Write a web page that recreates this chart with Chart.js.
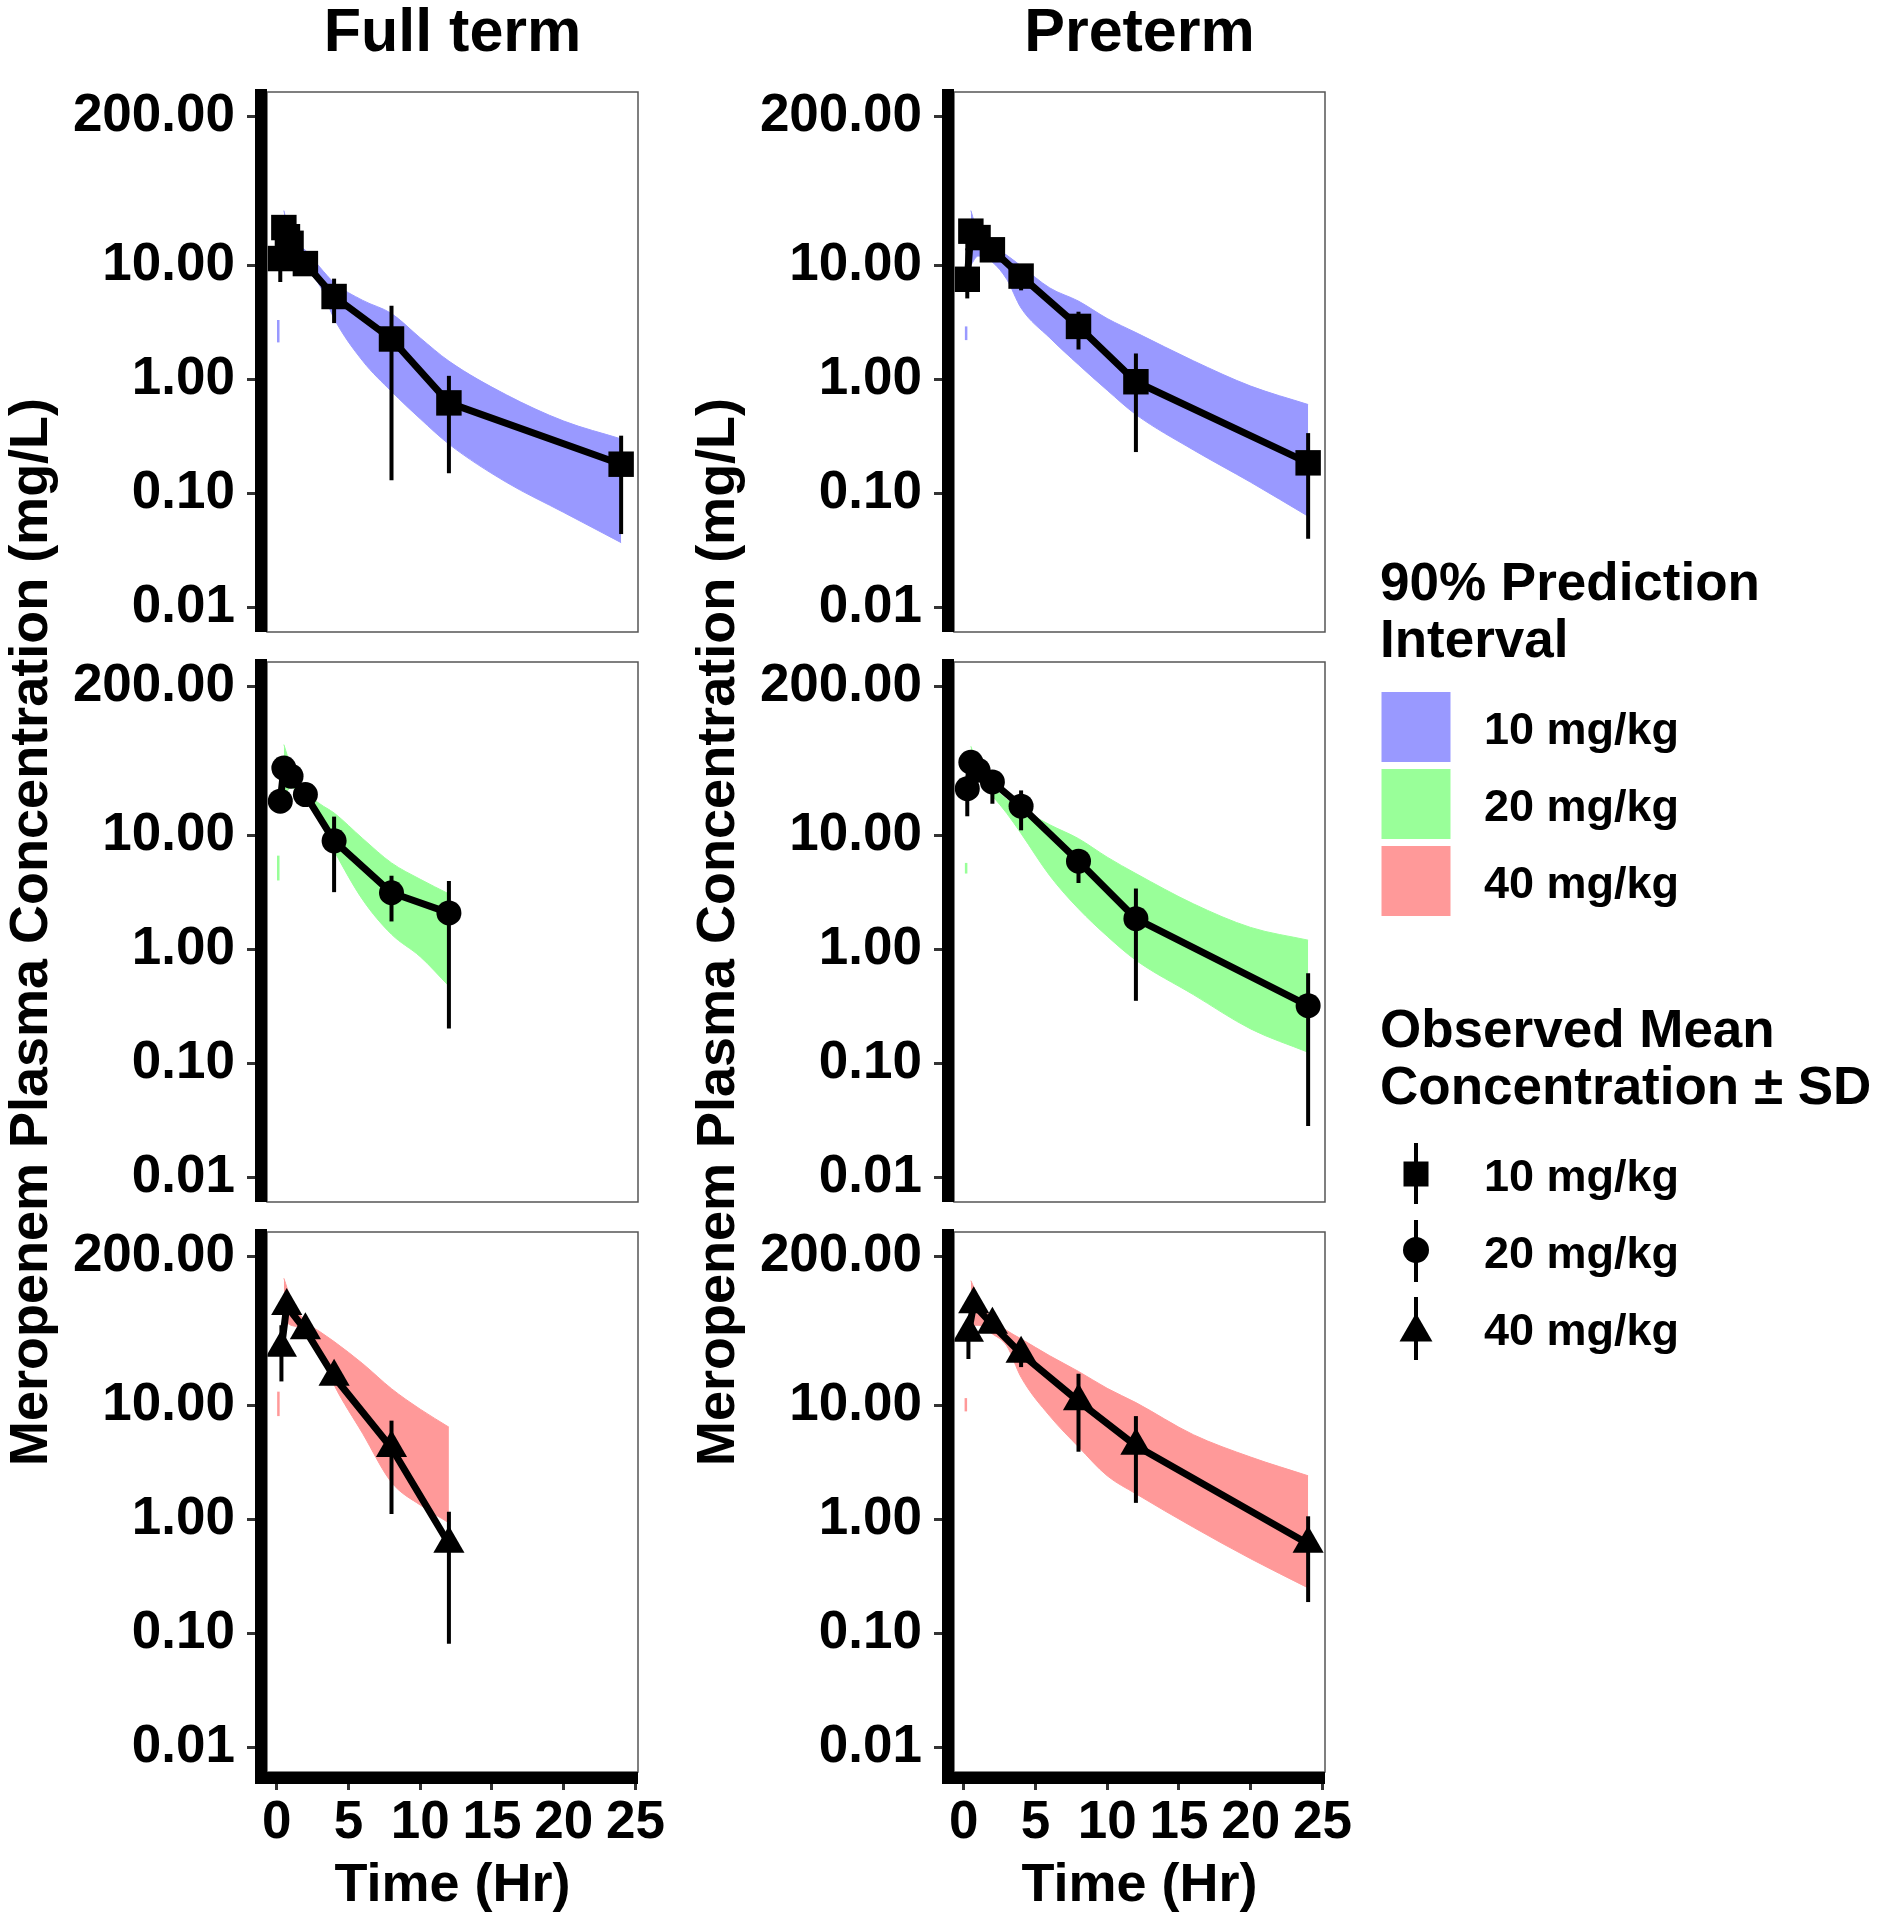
<!DOCTYPE html>
<html>
<head>
<meta charset="utf-8">
<script src="https://cdn.jsdelivr.net/npm/chart.js"></script>
<style>
  body { margin: 0; background: #fff; width: 1881px; height: 1920px; position: relative; overflow: hidden; }
  canvas { position: absolute; z-index: 1; }
  #overlay { position: absolute; left: 0; top: 0; z-index: 2; }
</style>
</head>
<body>
<svg id="overlay" width="1881" height="1920" xmlns="http://www.w3.org/2000/svg"
     font-family="'Liberation Sans', Arial, sans-serif" font-weight="bold"></svg>
<script>
// axes / labels
var xTickValues = [0, 5, 10, 15, 20, 25];
var yTickValues = [0.01, 0.1, 1, 10, 200];
var yTickLabels = ['0.01', '0.10', '1.00', '10.00', '200.00'];
var groupTitles = ['Full term', 'Preterm'];
var doseLabels = ['10 mg/kg', '20 mg/kg', '40 mg/kg'];
var xTitle = 'Time (Hr)';
var yTitle = 'Meropenem Plasma Concentration (mg/L)';
var piTitle = ['90% Prediction', 'Interval'];
var obsTitle = ['Observed Mean', 'Concentration \u00b1 SD'];

// Full term, 10 mg/kg
var ft10Time = [0.25, 0.5, 0.75, 1, 2, 4, 8, 12, 24];
var ft10Mean = [11.4, 21.3, 17.7, 15.5, 10.3, 5.3, 2.25, 0.62, 0.18];
var ft10SdLo = [7.1, 15, 14, 12.5, 8.8, 3.1, 0.13, 0.15, 0.044];
var ft10SdHi = [15, 27, 22, 19, 12, 7.6, 4.4, 1.07, 0.32];
var ft10PiTime = [0.5, 1, 2, 3, 4, 6, 8, 10, 12, 16, 20, 24];
var ft10PiLo = [10, 11, 9, 6.6, 3.4, 1.44, 0.78, 0.45, 0.27, 0.125, 0.068, 0.037];
var ft10PiHi = [30, 17, 13.5, 9.6, 7.0, 4.9, 3.76, 2.3, 1.44, 0.73, 0.43, 0.30];
var ft10PiEarly = [0.11, 2.1, 3.3];

// Preterm, 10 mg/kg
var pt10Time = [0.25, 0.5, 1, 2, 4, 8, 12, 24];
var pt10Mean = [7.5, 19.8, 17.4, 13.6, 8.0, 2.9, 0.95, 0.185];
var pt10SdLo = [5.1, 16, 14, 11, 6.0, 1.82, 0.23, 0.040];
var pt10SdHi = [14, 24, 21, 16, 10, 3.9, 1.68, 0.337];
var pt10PiTime = [0.5, 1, 2, 3, 4, 6, 8, 10, 12, 16, 20, 24];
var pt10PiLo = [10, 12, 10.6, 7.5, 4.2, 2.3, 1.34, 0.8, 0.49, 0.24, 0.125, 0.063];
var pt10PiHi = [30, 19, 14.5, 12.2, 9.8, 6.3, 4.83, 3.4, 2.56, 1.45, 0.87, 0.6];
var pt10PiEarly = [0.17, 2.2, 2.9];

// Full term, 20 mg/kg
var ft20Time = [0.25, 0.5, 1, 2, 4, 8, 12];
var ft20Mean = [19.8, 38.6, 32.8, 22.6, 8.9, 3.12, 2.08];
var ft20SdLo = [16, 32, 27, 17.7, 3.16, 1.75, 0.202];
var ft20SdHi = [25, 45, 38, 28, 14.5, 4.4, 3.95];
var ft20PiTime = [0.5, 1, 2, 3, 4, 6, 8, 10, 12];
var ft20PiLo = [22, 26, 20, 13, 7.3, 2.7, 1.35, 0.86, 0.475];
var ft20PiHi = [62, 40, 24, 18.8, 15.6, 9.3, 5.7, 4.1, 3.05];
var ft20PiEarly = [0.11, 4.0, 6.6];

// Preterm, 20 mg/kg
var pt20Time = [0.25, 0.5, 1, 2, 4, 8, 12, 24];
var pt20Mean = [25.5, 43.4, 37, 29.2, 17.9, 5.9, 1.85, 0.32];
var pt20SdLo = [14.6, 37, 31, 18.8, 11.0, 3.8, 0.353, 0.0283];
var pt20SdHi = [32, 50, 43, 34, 24.6, 7.4, 3.4, 0.617];
var pt20PiTime = [0.5, 1, 2, 3, 4, 6, 8, 10, 12, 16, 20, 24];
var pt20PiLo = [28, 30, 22, 15.5, 10.3, 4.4, 2.26, 1.3, 0.8, 0.4, 0.2, 0.125];
var pt20PiHi = [60, 40, 27, 20.5, 17, 12.3, 9.3, 6.4, 4.6, 2.5, 1.55, 1.2];
var pt20PiEarly = [0.17, 4.6, 5.7];

// Full term, 40 mg/kg
var ft40Time = [0.33, 0.7, 2, 4, 8, 12];
var ft40Mean = [31.8, 73.6, 45.3, 17.7, 4.2, 0.61];
var ft40SdLo = [16.1, 62, 38, 15, 1.11, 0.081];
var ft40SdHi = [50, 86, 53, 21, 7.3, 1.16];
var ft40PiTime = [0.5, 1, 2, 3, 4, 6, 8, 10, 12];
var ft40PiLo = [55, 50, 46, 29, 15, 5.6, 2.1, 1.33, 0.93];
var ft40PiHi = [129, 85, 54, 44, 36, 23, 13.9, 9.2, 6.4];
var ft40PiEarly = [0.12, 8.0, 13.1];

// Preterm, 40 mg/kg
var pt40Time = [0.33, 0.7, 2, 4, 8, 12, 24];
var pt40Mean = [43, 76.3, 50.5, 28.2, 10.8, 4.4, 0.61];
var pt40SdLo = [25.3, 66, 44, 21.5, 3.9, 1.39, 0.188];
var pt40SdHi = [55, 88, 58, 33.7, 18.8, 8.0, 1.06];
var pt40PiTime = [0.5, 1, 2, 3, 4, 6, 8, 10, 12, 16, 20, 24];
var pt40PiLo = [50, 50, 42, 33, 17.5, 8.0, 4.3, 2.4, 1.67, 0.85, 0.45, 0.25];
var pt40PiHi = [123, 90, 56, 45, 38, 27, 19.7, 14, 10.5, 5.5, 3.5, 2.4];
var pt40PiEarly = [0.15, 8.8, 11.5];

// styles
var piColors = ['#9999ff', '#99ff99', '#ff9999'];
var markerStyles = ['rect', 'circle', 'triangle'];
var markerRadius = [18, 12.5, 18];

// layout (px)
var colLeft = [267, 954];
var rowTop = [92, 662, 1232];
var panelW = 371, panelH = 540;
var axisW = 267, padTop = 50, padRight = 45, padBottom = 50, xAxisH = 147;

Chart.defaults.font.family = "'Liberation Sans', Arial, sans-serif";
Chart.defaults.color = '#000';

var panels = [
  {col: 0, row: 0, dose: 0, time: ft10Time, mean: ft10Mean, sdLo: ft10SdLo, sdHi: ft10SdHi, piTime: ft10PiTime, piLo: ft10PiLo, piHi: ft10PiHi, early: ft10PiEarly},
  {col: 1, row: 0, dose: 0, time: pt10Time, mean: pt10Mean, sdLo: pt10SdLo, sdHi: pt10SdHi, piTime: pt10PiTime, piLo: pt10PiLo, piHi: pt10PiHi, early: pt10PiEarly},
  {col: 0, row: 1, dose: 1, time: ft20Time, mean: ft20Mean, sdLo: ft20SdLo, sdHi: ft20SdHi, piTime: ft20PiTime, piLo: ft20PiLo, piHi: ft20PiHi, early: ft20PiEarly},
  {col: 1, row: 1, dose: 1, time: pt20Time, mean: pt20Mean, sdLo: pt20SdLo, sdHi: pt20SdHi, piTime: pt20PiTime, piLo: pt20PiLo, piHi: pt20PiHi, early: pt20PiEarly},
  {col: 0, row: 2, dose: 2, time: ft40Time, mean: ft40Mean, sdLo: ft40SdLo, sdHi: ft40SdHi, piTime: ft40PiTime, piLo: ft40PiLo, piHi: ft40PiHi, early: ft40PiEarly},
  {col: 1, row: 2, dose: 2, time: pt40Time, mean: pt40Mean, sdLo: pt40SdLo, sdHi: pt40SdHi, piTime: pt40PiTime, piLo: pt40PiLo, piHi: pt40PiHi, early: pt40PiEarly}
];

// vertical SD bars
var errorBars = {
  id: 'errorBars',
  afterDatasetsDraw: function(chart) {
    var ctx = chart.ctx, x = chart.scales.x, y = chart.scales.y;
    chart.data.datasets.forEach(function(ds) {
      if (!ds.sdLo) return;
      ctx.save();
      ctx.strokeStyle = '#000';
      ctx.lineWidth = 4;
      ds.data.forEach(function(p, i) {
        var px = x.getPixelForValue(p.x);
        ctx.beginPath();
        ctx.moveTo(px, y.getPixelForValue(ds.sdLo[i]));
        ctx.lineTo(px, y.getPixelForValue(ds.sdHi[i]));
        ctx.stroke();
      });
      ctx.restore();
    });
  }
};

// grey panel box + heavy axis lines
var panelFrame = {
  id: 'panelFrame',
  afterDraw: function(chart, args, opts) {
    var ctx = chart.ctx, a = chart.chartArea;
    ctx.save();
    ctx.strokeStyle = '#555';
    ctx.lineWidth = 1.5;
    ctx.strokeRect(a.left, a.top, a.right - a.left, a.bottom - a.top);
    ctx.fillStyle = '#000';
    var ext = opts.xAxis ? 12 : 0;
    ctx.fillRect(a.left - 12, a.top - 3, 12, a.bottom - a.top + 3 + ext);
    if (opts.xAxis) ctx.fillRect(a.left - 12, a.bottom, a.right - a.left + 12, 12);
    ctx.restore();
  }
};

panels.forEach(function(p) {
  var last = p.row === 2;
  var c = document.createElement('canvas');
  c.width = axisW + panelW + padRight;
  c.height = padTop + panelH + (last ? xAxisH : padBottom);
  c.style.left = (colLeft[p.col] - axisW) + 'px';
  c.style.top = (rowTop[p.row] - padTop) + 'px';
  document.body.appendChild(c);

  var color = piColors[p.dose];
  new Chart(c.getContext('2d'), {
    type: 'line',
    data: {
      datasets: [
        {
          data: p.time.map(function(t, i) { return {x: t, y: p.mean[i]}; }),
          sdLo: p.sdLo, sdHi: p.sdHi,
          borderColor: '#000', borderWidth: 7, borderJoinStyle: 'round',
          pointStyle: markerStyles[p.dose], pointRadius: markerRadius[p.dose],
          pointBackgroundColor: '#000', pointBorderWidth: 0,
          fill: false, clip: false
        },
        {
          data: p.piTime.map(function(t, i) { return {x: t, y: p.piLo[i]}; }),
          borderColor: color, borderWidth: 1, pointRadius: 0, fill: false,
          cubicInterpolationMode: 'monotone'
        },
        {
          data: p.piTime.map(function(t, i) { return {x: t, y: p.piHi[i]}; }),
          borderColor: color, borderWidth: 1, pointRadius: 0, fill: '-1',
          backgroundColor: color, cubicInterpolationMode: 'monotone'
        },
        {
          data: [{x: p.early[0], y: p.early[1]}, {x: p.early[0], y: p.early[2]}],
          borderColor: color, borderWidth: 2.5, pointRadius: 0, fill: false
        }
      ]
    },
    options: {
      responsive: false,
      animation: false,
      devicePixelRatio: 1,
      events: [],
      layout: {padding: {top: padTop, right: padRight, bottom: last ? 0 : padBottom, left: 0}},
      plugins: {legend: {display: false}, tooltip: {enabled: false}, panelFrame: {xAxis: last}},
      scales: {
        x: {
          type: 'linear', min: -0.675, max: 25.175, display: last,
          afterBuildTicks: function(s) { s.ticks = xTickValues.map(function(v) { return {value: v}; }); },
          afterFit: last ? function(s) { s.height = xAxisH; } : undefined,
          grid: {drawOnChartArea: false, drawTicks: true, tickLength: 18, tickWidth: 3, tickColor: '#333'},
          border: {display: false},
          ticks: {font: {size: 53, weight: 'bold'}, color: '#000', padding: 2, maxRotation: 0, autoSkip: false},
          title: {display: true, text: xTitle, font: {size: 54, weight: 'bold'}, color: '#000', padding: 0}
        },
        y: {
          type: 'logarithmic', min: 0.0061, max: 328,
          afterBuildTicks: function(s) { s.ticks = yTickValues.map(function(v) { return {value: v}; }); },
          afterFit: function(s) { s.width = axisW; },
          grid: {drawOnChartArea: false, drawTicks: true, tickLength: 20, tickWidth: 3, tickColor: '#333'},
          border: {display: false},
          ticks: {font: {size: 53, weight: 'bold'}, color: '#000', padding: 12, autoSkip: false,
                  callback: function(v, i) { return yTickLabels[i]; }}
        }
      }
    },
    plugins: [errorBars, panelFrame]
  });
});

// text overlay and legends
var svgNS = 'http://www.w3.org/2000/svg';
var svg = document.getElementById('overlay');
function el(name, attrs, text) {
  var e = document.createElementNS(svgNS, name);
  for (var k in attrs) e.setAttribute(k, attrs[k]);
  if (text !== undefined) e.textContent = text;
  svg.appendChild(e);
  return e;
}

groupTitles.forEach(function(t, i) {
  el('text', {x: colLeft[i] + panelW / 2, y: 51, 'font-size': 61, 'text-anchor': 'middle'}, t);
  el('text', {transform: 'translate(' + (colLeft[i] - 220) + ',932) rotate(-90)', 'font-size': 54, 'text-anchor': 'middle'}, yTitle);
});

el('text', {x: 1380, y: 600, 'font-size': 53}, piTitle[0]);
el('text', {x: 1380, y: 657, 'font-size': 53}, piTitle[1]);
var keyTops = [692, 769, 846];
doseLabels.forEach(function(d, i) {
  el('rect', {x: 1381.5, y: keyTops[i], width: 69, height: 70, fill: piColors[i]});
  el('text', {x: 1484, y: keyTops[i] + 51.5, 'font-size': 45}, d);
});

el('text', {x: 1380, y: 1047, 'font-size': 53}, obsTitle[0]);
el('text', {x: 1380, y: 1103.5, 'font-size': 53}, obsTitle[1]);
var symY = [1174, 1250, 1332];
var barY = [[1143, 1204], [1220, 1282], [1297, 1360]];
var baseY = [1190.5, 1268, 1345];
doseLabels.forEach(function(d, i) {
  el('line', {x1: 1416, x2: 1416, y1: barY[i][0], y2: barY[i][1], stroke: '#000', 'stroke-width': 4});
  if (i === 0) el('rect', {x: 1403.5, y: symY[i] - 12.5, width: 25, height: 25, fill: '#000'});
  if (i === 1) el('circle', {cx: 1416, cy: symY[i], r: 13, fill: '#000'});
  if (i === 2) {
    var r = 19, cy = symY[i];
    el('polygon', {points: [1416, cy - r, 1416 + r * 0.866, cy + r / 2, 1416 - r * 0.866, cy + r / 2].join(' '), fill: '#000'});
  }
  el('text', {x: 1484, y: baseY[i], 'font-size': 45}, d);
});
</script>
</body>
</html>
